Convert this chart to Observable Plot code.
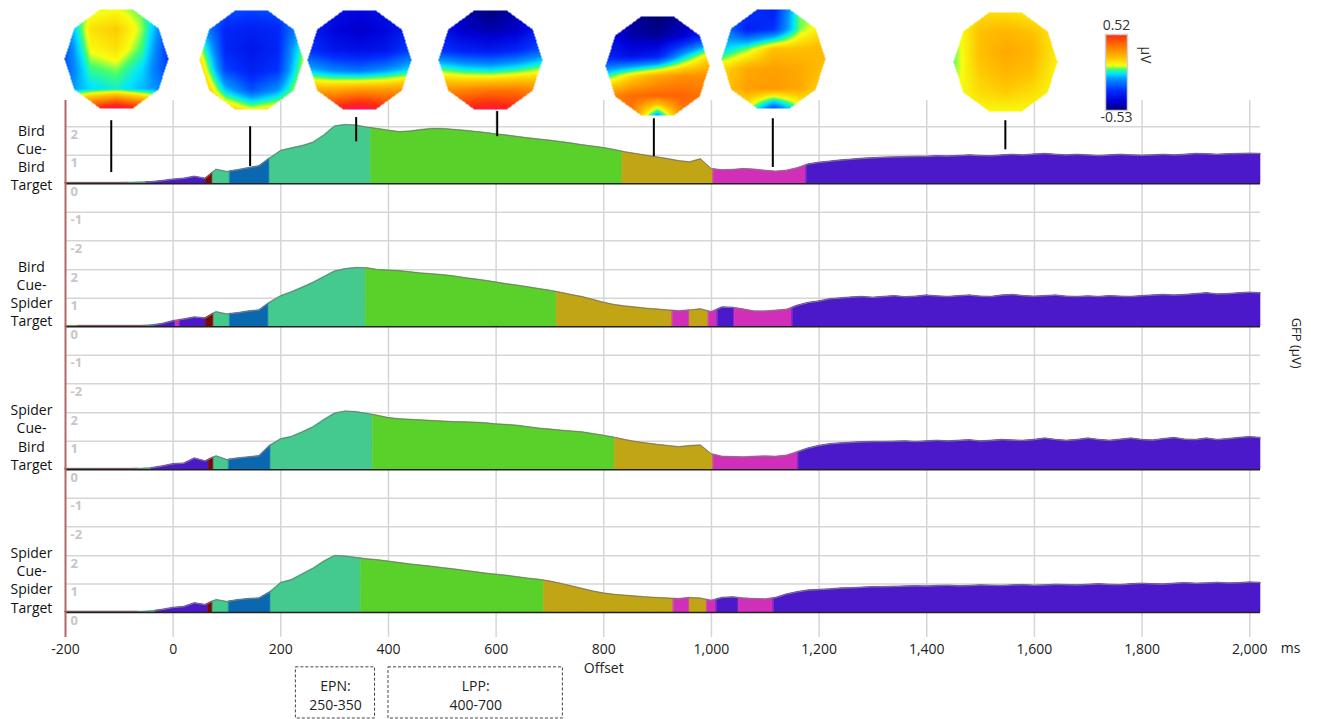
<!DOCTYPE html>
<html>
<head>
<meta charset="utf-8">
<script src="https://cdn.jsdelivr.net/npm/d3@7"></script>
<script src="https://cdn.jsdelivr.net/npm/@observablehq/plot@0.6"></script>
<style>
  body { margin: 0; background: #fff; font-family: "Open Sans", sans-serif; }
  #chart { position: relative; width: 1332px; height: 719px; overflow: hidden; background: #fff; }
  #chart > svg { position: absolute; }
</style>
</head>
<body>
<div id="chart"></div>
<script>
// ---- sampling grid (ms) ----
const times = d3.range(-200, 2021, 20);

// ---- GFP (µV) per condition, one value per sample time ----
const gfpBirdBird = [
  0.03,0.03,0.03,0.03,0.03,0.03,0.04,0.05,0.06,0.10,
  0.15,0.18,0.25,0.18,0.50,0.42,0.48,0.55,0.62,0.90,
  1.16,1.25,1.33,1.45,1.70,2.02,2.07,2.05,1.98,1.93,
  1.87,1.82,1.84,1.89,1.93,1.93,1.90,1.87,1.83,1.79,
  1.74,1.70,1.65,1.60,1.56,1.52,1.47,1.42,1.36,1.31,
  1.26,1.19,1.11,1.05,0.99,0.93,0.87,0.80,0.76,0.87,
  0.52,0.48,0.49,0.52,0.50,0.46,0.43,0.46,0.55,0.68,
  0.74,0.78,0.82,0.85,0.88,0.90,0.92,0.93,0.94,0.95,
  0.95,0.97,0.96,0.98,1.00,0.98,0.97,1.00,1.02,1.00,
  1.03,1.05,1.02,1.00,1.02,1.00,0.98,1.00,1.02,1.00,
  0.99,1.00,1.02,1.00,1.02,1.05,1.04,1.02,1.04,1.05,
  1.06,1.05
];
const gfpBirdSpider = [
  0.03,0.03,0.03,0.03,0.03,0.03,0.03,0.03,0.05,0.10,
  0.20,0.26,0.33,0.30,0.52,0.44,0.48,0.54,0.58,0.86,
  1.08,1.22,1.38,1.55,1.75,1.95,2.03,2.07,2.06,2.00,
  1.98,1.96,1.92,1.88,1.85,1.82,1.78,1.72,1.67,1.62,
  1.56,1.50,1.45,1.39,1.33,1.27,1.20,1.12,1.05,0.95,
  0.85,0.77,0.72,0.68,0.64,0.61,0.58,0.55,0.58,0.62,
  0.52,0.68,0.67,0.61,0.54,0.54,0.57,0.60,0.74,0.84,
  0.89,0.97,1.00,1.03,1.05,1.02,1.05,1.08,1.04,1.06,
  1.10,1.07,1.05,1.08,1.10,1.06,1.05,1.10,1.12,1.08,
  1.06,1.08,1.10,1.06,1.05,1.07,1.05,1.08,1.06,1.05,
  1.08,1.10,1.12,1.10,1.12,1.15,1.18,1.14,1.15,1.18,
  1.20,1.18
];
const gfpSpiderBird = [
  0.03,0.03,0.03,0.03,0.03,0.03,0.03,0.04,0.06,0.12,
  0.20,0.22,0.40,0.30,0.48,0.35,0.40,0.44,0.48,0.85,
  1.08,1.16,1.32,1.50,1.75,1.98,2.05,2.03,1.97,1.90,
  1.82,1.78,1.76,1.74,1.72,1.70,1.68,1.67,1.66,1.64,
  1.60,1.58,1.55,1.50,1.45,1.42,1.38,1.35,1.32,1.26,
  1.20,1.13,1.05,0.98,0.93,0.88,0.84,0.80,0.84,0.86,
  0.55,0.46,0.45,0.44,0.46,0.47,0.46,0.50,0.62,0.75,
  0.84,0.90,0.93,0.95,0.97,0.98,0.98,0.99,1.00,0.98,
  1.00,1.02,1.00,1.02,1.04,1.00,1.02,1.05,1.03,1.02,
  1.05,1.10,1.05,1.02,1.05,1.10,1.05,1.02,1.06,1.10,
  1.05,1.03,1.08,1.12,1.06,1.05,1.10,1.05,1.08,1.12,
  1.15,1.12
];
const gfpSpiderSpider = [
  0.03,0.03,0.03,0.03,0.03,0.03,0.03,0.03,0.05,0.10,
  0.17,0.20,0.33,0.27,0.45,0.38,0.44,0.48,0.50,0.72,
  1.05,1.15,1.35,1.55,1.80,2.00,1.98,1.93,1.88,1.85,
  1.80,1.75,1.70,1.66,1.62,1.57,1.53,1.48,1.43,1.38,
  1.34,1.30,1.25,1.20,1.16,1.10,1.02,0.93,0.84,0.75,
  0.68,0.63,0.60,0.57,0.54,0.52,0.50,0.48,0.52,0.50,
  0.42,0.52,0.54,0.50,0.48,0.47,0.52,0.64,0.72,0.78,
  0.80,0.82,0.85,0.86,0.88,0.90,0.90,0.91,0.92,0.93,
  0.92,0.94,0.95,0.93,0.94,0.96,0.95,0.94,0.96,0.97,
  0.95,0.96,0.98,0.97,0.96,0.98,1.00,0.98,0.97,1.00,
  1.02,1.00,0.99,1.02,1.04,1.02,1.03,1.05,1.03,1.04,
  1.06,1.05
];

// ---- microstate segmentation: start time (ms) and class of each segment ----
const segStartsBirdBird = [-200, -82, -50, 61, 74, 106, 180, 368, 835, 1004, 1177];
const segClassBirdBird  = ["M", "T", "V", "M", "T", "B", "T", "G", "O", "P", "V"];
const segStartsBirdSpider = [-200, -177, -50, -32, 5, 13, 61, 76, 106, 178, 358, 713, 928, 960, 995, 1012, 1043, 1151];
const segClassBirdSpider  = ["G", "M", "B", "V", "P", "V", "M", "T", "B", "T", "G", "O", "P", "O", "P", "V", "P", "V"];
const segStartsSpiderBird = [-200, -65, -40, 67, 76, 104, 182, 371, 821, 1004, 1162];
const segClassSpiderBird  = ["M", "T", "V", "M", "T", "B", "T", "G", "O", "P", "V"];
const segStartsSpiderSpider = [-200, -65, -32, 65, 74, 104, 182, 349, 689, 930, 960, 992, 1010, 1051, 1116];
const segClassSpiderSpider  = ["M", "T", "V", "M", "T", "B", "T", "G", "O", "P", "O", "P", "V", "P", "V"];

const classCodes  = ["M", "T", "B", "G", "O", "P", "V"];
const classColors = ["#7a0606", "#44c98f", "#0a68b0", "#5ad02a", "#c2a514", "#d12fba", "#4b19c9"];

// ---- conditions ----
const conditionLabels = ["Bird\nCue-\nBird\nTarget", "Bird\nCue-\nSpider\nTarget", "Spider\nCue-\nBird\nTarget", "Spider\nCue-\nSpider\nTarget"];
const conditionLabelY = [0.93, 1.18, 1.16, 1.16];

// ---- axes ----
const xTicks = [-200, 0, 200, 400, 600, 800, 1000, 1200, 1400, 1600, 1800, 2000];
const gridTimes = [0, 200, 400, 600, 800, 1000, 1200, 1400, 1600, 1800, 2000];
const yTicks = [2, 1, 0, -1, -2];
const yGrid = [2, 1, -1, -2];

// ---- topographic map time points and connector stems (stems in GFP units of the first row) ----
const stemTimes  = [-115, 143, 340, 602, 893, 1114, 1546];
const stemTop    = [2.21, 2.00, 2.32, 2.53, 2.28, 2.28, 2.21];
const stemBottom = [0.39, 0.60, 1.47, 1.65, 0.95, 0.57, 1.19];
const mapTimes   = [-106, 145, 347, 589, 899, 1116, 1546];

// scalp potential (µV) on a coarse 6x5 grid, front (top row) to back (bottom row)
const topoA = [
  [-0.02, 0.07, 0.09, 0.04,-0.08],
  [-0.15, 0.14, 0.18, 0.06,-0.20],
  [-0.20, 0.10, 0.14, 0.03,-0.25],
  [-0.20, 0.03, 0.06,-0.03,-0.24],
  [-0.12,-0.03, 0.00,-0.06,-0.14],
  [ 0.35, 0.50, 0.65, 0.50, 0.35]
];
const topoB = [
  [-0.10,-0.20,-0.22,-0.20,-0.10],
  [-0.05,-0.28,-0.30,-0.28,-0.05],
  [ 0.10,-0.28,-0.33,-0.28, 0.05],
  [ 0.20,-0.22,-0.30,-0.25, 0.10],
  [ 0.30,-0.05,-0.20,-0.10, 0.15],
  [ 0.40, 0.20, 0.10, 0.15, 0.20]
];
const topoC = [
  [-0.28,-0.35,-0.38,-0.35,-0.28],
  [-0.30,-0.38,-0.42,-0.38,-0.30],
  [-0.25,-0.33,-0.35,-0.33,-0.22],
  [-0.05,-0.12,-0.15,-0.10,-0.02],
  [ 0.25, 0.25, 0.28, 0.28, 0.30],
  [ 0.50, 0.55, 0.65, 0.55, 0.50]
];
const topoD = [
  [-0.35,-0.45,-0.52,-0.45,-0.35],
  [-0.33,-0.42,-0.45,-0.42,-0.30],
  [-0.25,-0.30,-0.32,-0.28,-0.18],
  [ 0.05, 0.00,-0.02, 0.02, 0.08],
  [ 0.30, 0.32, 0.35, 0.35, 0.30],
  [ 0.45, 0.55, 0.60, 0.55, 0.45]
];
const topoE = [
  [-0.40,-0.48,-0.53,-0.48,-0.40],
  [-0.35,-0.45,-0.48,-0.40,-0.25],
  [-0.30,-0.35,-0.30,-0.05, 0.15],
  [ 0.00, 0.15, 0.25, 0.30, 0.30],
  [ 0.30, 0.38, 0.40, 0.40, 0.35],
  [ 0.30, 0.35,-0.10, 0.35, 0.30]
];
const topoF = [
  [-0.10,-0.25,-0.30, 0.05, 0.00],
  [-0.10,-0.30,-0.25, 0.05, 0.15],
  [-0.05, 0.05, 0.20, 0.20, 0.22],
  [ 0.15, 0.25, 0.27, 0.25, 0.20],
  [ 0.18, 0.27, 0.28, 0.25, 0.15],
  [ 0.05, 0.10,-0.20, 0.05, 0.10]
];
const topoG = [
  [ 0.10, 0.15, 0.15, 0.12, 0.10],
  [ 0.05, 0.20, 0.22, 0.20, 0.12],
  [ 0.04, 0.20, 0.25, 0.22, 0.12],
  [ 0.05, 0.18, 0.22, 0.20, 0.10],
  [ 0.08, 0.15, 0.18, 0.15, 0.10],
  [ 0.10, 0.10, 0.10, 0.10, 0.10]
];
const topoMaps = [topoA, topoB, topoC, topoD, topoE, topoF, topoG];
const colorbarRange = [-0.53, 0.52];
const topoDomain = [-0.53, -0.40, -0.25, -0.10, -0.02, 0.04, 0.09, 0.20, 0.35, 0.52, 0.70];
const topoColors = ["#000070", "#0000d8", "#0030ff", "#0090ff", "#00e6ff", "#40ff70", "#f8ff10", "#ffc000", "#ff7a00", "#ff2a10", "#ff0090"];

// ---- ERP window annotations ----
const windows = [
  {label: "EPN:\n250-350", t1: 228, t2: 375},
  {label: "LPP:\n400-700", t1: 400, t2: 724}
];
const offsetLabelAt = 800;

const conditions = [
  {values: gfpBirdBird, starts: segStartsBirdBird, classes: segClassBirdBird},
  {values: gfpBirdSpider, starts: segStartsBirdSpider, classes: segClassBirdSpider},
  {values: gfpSpiderBird, starts: segStartsSpiderBird, classes: segClassSpiderBird},
  {values: gfpSpiderSpider, starts: segStartsSpiderSpider, classes: segClassSpiderSpider}
];

// ---- helpers ----
function valueAt(vals, t) {
  let i = d3.bisectRight(times, t) - 1;
  i = Math.max(0, Math.min(times.length - 2, i));
  const f = (t - times[i]) / (times[i + 1] - times[i]);
  return vals[i] * (1 - f) + vals[i + 1] * f;
}

// split a GFP curve into filled segments that share their boundary samples
function segmentData(vals, starts, classes) {
  const end = times[times.length - 1];
  const out = [];
  starts.forEach((a, k) => {
    const b = k + 1 < starts.length ? starts[k + 1] : end;
    out.push({t: a, v: valueAt(vals, a), seg: k, cls: classes[k]});
    times.forEach((t, i) => { if (t > a && t < b) out.push({t, v: vals[i], seg: k, cls: classes[k]}); });
    out.push({t: b, v: valueAt(vals, b), seg: k, cls: classes[k]});
  });
  return out;
}

const hyphen = s => String(s).replace("\u2212", "-");
const chart = document.getElementById("chart");
const rowTops = [100, 243, 386, 529];
const font = "'Open Sans', sans-serif";

conditions.forEach((c, r) => {
  const last = r === conditions.length - 1;
  const yDomain = last ? [-0.88, 2.92] : [-2.1, 2.92];
  const curve = times.map((t, i) => ({t, v: c.values[i]}));
  const ticks = yTicks.filter(v => v >= yDomain[0] && v <= yDomain[1]);
  const marks = [
    Plot.ruleY(yGrid.filter(v => v >= yDomain[0]), {stroke: "#d6d6d6", strokeWidth: 1.5}),
    Plot.ruleX(gridTimes, {stroke: "#d6d6d6", strokeWidth: 1.5}),
    Plot.areaY(segmentData(c.values, c.starts, c.classes), {x: "t", y1: 0, y2: "v", z: "seg", fill: "cls", stroke: "cls", strokeWidth: 0.6, curve: "linear"}),
    Plot.line(curve, {x: "t", y: "v", stroke: "#7a7a7a", strokeWidth: 1}),
    Plot.ruleY([0], {stroke: "#222", strokeWidth: 1.5}),
    Plot.ruleX([-200], {stroke: "#b36666", strokeWidth: 2}),
    Plot.text(ticks, {frameAnchor: "left", y: d => d, text: d => String(d), dx: 5, dy: 8, textAnchor: "start", fill: "#c6c6c6", fontWeight: "bold", fontSize: 13}),
    Plot.text([conditionLabels[r]], {frameAnchor: "left", y: () => conditionLabelY[r], dx: -34, textAnchor: "middle", lineHeight: 1.3, fontSize: 14, fill: "#111"})
  ];
  if (r === 0) {
    marks.push(Plot.ruleX(stemTimes.map((t, i) => ({t, y1: stemTop[i], y2: stemBottom[i]})), {x: "t", y1: "y1", y2: "y2", stroke: "#000", strokeWidth: 2}));
  }
  if (r === 1) {
    marks.push(Plot.text(["GFP (µV)"], {frameAnchor: "bottom-right", dx: 31, dy: -18, rotate: 90, fontSize: 13, fill: "#222"}));
  }
  if (last) {
    marks.push(
      Plot.axisX({ticks: xTicks, tickFormat: d => hyphen(d3.format(",")(d)), tickSize: 0, tickPadding: 7, fontSize: 14, label: null, fill: "#222"}),
      Plot.text(["ms"], {frameAnchor: "bottom-right", dx: 40, dy: 15, fontSize: 14, fill: "#222"}),
      Plot.text(["Offset"], {x: () => offsetLabelAt, frameAnchor: "bottom", dy: 35, fontSize: 14, fill: "#222"}),
      Plot.rect(windows, {x1: "t1", x2: "t2", y1: () => -1.93, y2: () => -3.73, fill: "none", stroke: "#444", strokeDasharray: "3,2", strokeWidth: 1}),
      Plot.text(windows, {x: d => (d.t1 + d.t2) / 2, y: () => -2.87, text: "label", lineHeight: 1.35, fontSize: 14, fill: "#222"})
    );
  }
  const svg = Plot.plot({
    width: 1332,
    height: last ? 190 : 143,
    marginLeft: 65, marginRight: 72, marginTop: 0, marginBottom: last ? 82 : 0,
    x: {domain: [-200, 2020], axis: null},
    y: {domain: yDomain, axis: null},
    color: {domain: classCodes, range: classColors},
    style: {overflow: "visible", background: "transparent", fontFamily: font},
    marks
  });
  svg.style.left = "0px";
  svg.style.top = rowTops[r] + "px";
  chart.appendChild(svg);
});

// ---- topographic maps ----
const xPix = d3.scaleLinear().domain([-200, 2020]).range([65, 1260]);
const yMax = Math.sin(2 * Math.PI / 5);
function insideDecagon(x, y) {
  const r = Math.hypot(x, y);
  const step = Math.PI / 5;
  let a = Math.atan2(y, x);
  a = ((a % step) + step) % step - step / 2;
  return r <= Math.cos(step / 2) / Math.cos(a);
}
function sampleGrid(grid, x, y) {
  const rows = grid.length, cols = grid[0].length;
  const u = (x + 1) / 2 * (cols - 1);
  const v = (yMax - y) / (2 * yMax) * (rows - 1);
  const c0 = Math.max(0, Math.min(cols - 2, Math.floor(u)));
  const r0 = Math.max(0, Math.min(rows - 2, Math.floor(v)));
  const fu = u - c0, fv = v - r0;
  const top = grid[r0][c0] * (1 - fu) + grid[r0][c0 + 1] * fu;
  const bot = grid[r0 + 1][c0] * (1 - fu) + grid[r0 + 1][c0 + 1] * fu;
  return top * (1 - fv) + bot * fv;
}
const mapW = 104, mapH = 99;
const mapTops = [9, 10, 10, 10, 16, 9, 12];
topoMaps.forEach((grid, k) => {
  const svg = Plot.plot({
    width: mapW, height: mapH, margin: 0,
    x: {domain: [-1, 1], axis: null},
    y: {domain: [-yMax, yMax], axis: null},
    color: {type: "linear", domain: topoDomain, range: topoColors, clamp: true},
    style: {background: "transparent", overflow: "visible"},
    marks: [
      Plot.raster({x1: -1, x2: 1, y1: -yMax, y2: yMax, pixelSize: 1,
        fill: (x, y) => insideDecagon(x, y) ? sampleGrid(grid, x, y) : NaN})
    ]
  });
  svg.style.left = (xPix(mapTimes[k]) - mapW / 2) + "px";
  svg.style.top = mapTops[k] + "px";
  chart.appendChild(svg);
});

// ---- colour bar ----
const bar = Plot.plot({
  width: 82, height: 130,
  marginLeft: 20, marginRight: 40, marginTop: 34, marginBottom: 20,
  x: {domain: [0, 1], axis: null},
  y: {domain: colorbarRange, axis: null},
  color: {type: "linear", domain: topoDomain, range: topoColors, clamp: true},
  style: {background: "transparent", overflow: "visible", fontFamily: font},
  marks: [
    Plot.raster({x1: 0, x2: 1, y1: colorbarRange[0], y2: colorbarRange[1], pixelSize: 1, fill: (x, y) => y}),
    Plot.frame({stroke: "#cfcfcf", strokeWidth: 1.5}),
    Plot.text([String(colorbarRange[1])], {frameAnchor: "top", dy: -14, fontSize: 14, fill: "#333"}),
    Plot.text([String(colorbarRange[0])], {frameAnchor: "bottom", dy: 11, fontSize: 14, fill: "#333"}),
    Plot.text(["µV"], {frameAnchor: "right", dx: 18, dy: -9, rotate: 90, fontSize: 14, fill: "#333"})
  ]
});
bar.style.left = "1085px";
bar.style.top = "0px";
chart.appendChild(bar);
</script>
</body>
</html>
